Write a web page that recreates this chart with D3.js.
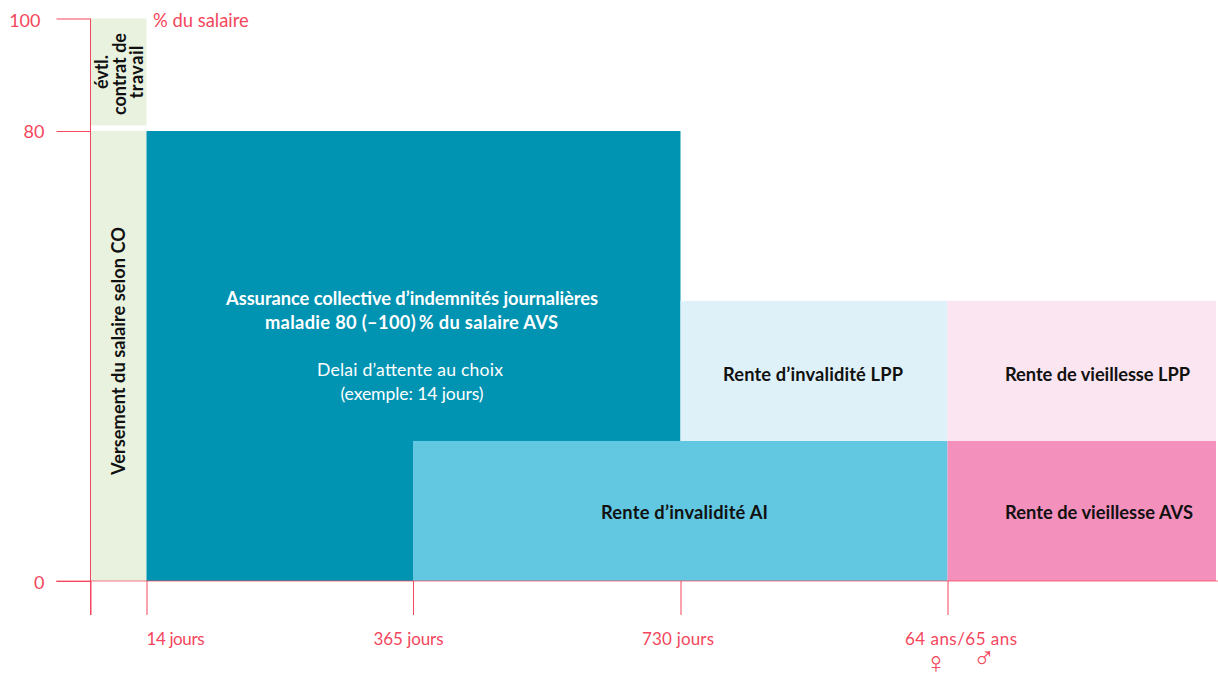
<!DOCTYPE html>
<html>
<head>
<meta charset="utf-8">
<script src="https://cdn.jsdelivr.net/npm/d3@7"></script>
<style>
html, body { margin: 0; padding: 0; background: #fff; }
svg { display: block; }
text { font-family: Lato, "Open Sans", sans-serif; }
</style>
</head>
<body>
<div id="chart"></div>
<script>
// x breakpoints, one unit per axis section (the axis is not to scale)
var xStops = [0, 14, 365, 730, 1095, 1460];
var xTicks = [0, 14, 365, 730, 1095];
var xTickLabels = ['', '14 jours', '365 jours', '730 jours', '64 ans/65 ans'];
var yTicks = [0, 80, 100];

var blockNames = ['contrat', 'co', 'ijm', 'ai', 'lppInv', 'avs', 'lppVie'];
var blockX0 = [0, 0, 14, 365, 730, 1095, 1095];
var blockX1 = [14, 14, 730, 1095, 1095, 1460, 1460];
var blockY0 = [81, 0, 0, 0, 24.9, 0, 24.9];
var blockY1 = [100, 80, 80, 24.9, 49.8, 24.9, 49.8];

var width = 1218, height = 680;
var red = '#f4465c';

var svg = d3.select('#chart').append('svg')
    .attr('width', width)
    .attr('height', height);

var x = d3.scaleLinear().domain(xStops).range([90.5, 146.5, 413, 680.5, 947.5, 1216]);
var y = d3.scaleLinear().domain([0, 100]).range([581, 18.5]);

var fills = {
    contrat: '#e9f2df', co: '#e9f2df', ijm: '#0093b2', ai: '#62c8e1',
    lppInv: '#dff1f8', avs: '#f490bc', lppVie: '#fbe5f0'
};

// blocs
svg.append('g')
    .selectAll('rect')
    .data(blockNames)
    .enter()
    .append('rect')
    .attr('x', function (d, i) { return x(blockX0[i]); })
    .attr('y', function (d, i) { return y(blockY1[i]); })
    .attr('width', function (d, i) { return x(blockX1[i]) - x(blockX0[i]); })
    .attr('height', function (d, i) { return y(blockY0[i]) - y(blockY1[i]); })
    .attr('fill', function (d) { return fills[d]; });

// axe y
var yAxis = svg.append('g')
    .attr('transform', 'translate(90.5,0)')
    .call(d3.axisLeft(y).tickValues(yTicks).tickSize(34).tickSizeOuter(0));
yAxis.select('.domain').remove();
yAxis.selectAll('line').attr('stroke', red);
yAxis.selectAll('text')
    .attr('x', function (d) { return d === 100 ? -50 : -46; })
    .attr('text-anchor', 'end')
    .attr('dy', function (d) { return d === 80 ? '0.36em' : '0.42em'; })
    .attr('fill', red)
    .attr('font-size', 18)
    .attr('font-family', 'Lato');

// axe x
var labelShift = [0, 28.5, -5, -3, 13];
var labelWidth = [0, 58, 70, 72, 112];
var xAxis = svg.append('g')
    .attr('transform', 'translate(0,581)')
    .call(d3.axisBottom(x)
        .tickValues(xTicks)
        .tickSize(34)
        .tickSizeOuter(0)
        .tickFormat(function (d, i) { return xTickLabels[i]; }));
xAxis.select('.domain').remove();
xAxis.selectAll('line').attr('stroke', red);
xAxis.selectAll('text')
    .attr('x', function (d, i) { return labelShift[i]; })
    .attr('y', 64)
    .attr('dy', 0)
    .attr('fill', red)
    .attr('font-size', 17)
    .attr('font-family', 'Lato')
    .each(function (d, i) {
        if (labelWidth[i]) d3.select(this).attr('textLength', labelWidth[i]);
    });

// lignes des axes
svg.append('line')
    .attr('x1', 90.5).attr('x2', 90.5)
    .attr('y1', y(100)).attr('y2', 615)
    .attr('stroke', red);
svg.append('line')
    .attr('x1', 56).attr('x2', width)
    .attr('y1', y(0)).attr('y2', y(0))
    .attr('stroke', red)
    .attr('stroke-opacity', 0.75);

svg.append('text')
    .attr('x', 153).attr('y', 27)
    .attr('fill', red)
    .attr('font-size', 18.4)
    .text('% du salaire');

// symboles
svg.append('text')
    .attr('x', 936).attr('y', 672.5)
    .attr('text-anchor', 'middle')
    .attr('fill', red)
    .attr('font-size', 30)
    .attr('font-family', 'DejaVu Sans')
    .text('\u2640');
svg.append('text')
    .attr('x', 984).attr('y', 668)
    .attr('text-anchor', 'middle')
    .attr('fill', red)
    .attr('font-size', 30)
    .attr('font-family', 'DejaVu Sans')
    .text('\u2642');

function label(txt, px, py, len, opts) {
    opts = opts || {};
    var t = svg.append('text')
        .attr('text-anchor', 'middle')
        .attr('fill', opts.fill || '#111')
        .attr('font-size', opts.size || 18.3)
        .attr('font-weight', opts.weight || 700)
        .attr('textLength', len)
        .text(txt);
    if (opts.rotate) {
        t.attr('transform', 'translate(' + px + ',' + py + ') rotate(-90)');
    } else {
        t.attr('x', px).attr('y', py);
    }
    return t;
}

label('\u00e9vtl.', 108, 72, 34, { rotate: true, size: 18 });
label('contrat de', 126, 74, 82, { rotate: true, size: 18 });
label('travail', 143, 72, 53, { rotate: true, size: 18 });
label('Versement du salaire selon CO', 125, 351, 248, { rotate: true });

label('Assurance collective d\u2019indemnit\u00e9s journali\u00e8res', 412, 304.5, 372, { fill: '#fff' });
label('maladie 80 (\u2013100)\u2009% du salaire AVS', 411.5, 328.5, 293, { fill: '#fff' });
label('Delai d\u2019attente au choix', 410, 376, 186, { fill: '#fff', weight: 400, size: 17.6 });
label('(exemple: 14 jours)', 412, 400, 143, { fill: '#fff', weight: 400, size: 17.6 });
label('Rente d\u2019invalidit\u00e9 LPP', 813, 381, 180);
label('Rente de vieillesse LPP', 1097.5, 381, 185);
label('Rente d\u2019invalidit\u00e9 AI', 684.5, 518.5, 167);
label('Rente de vieillesse AVS', 1099, 518.5, 188);
</script>
</body>
</html>
